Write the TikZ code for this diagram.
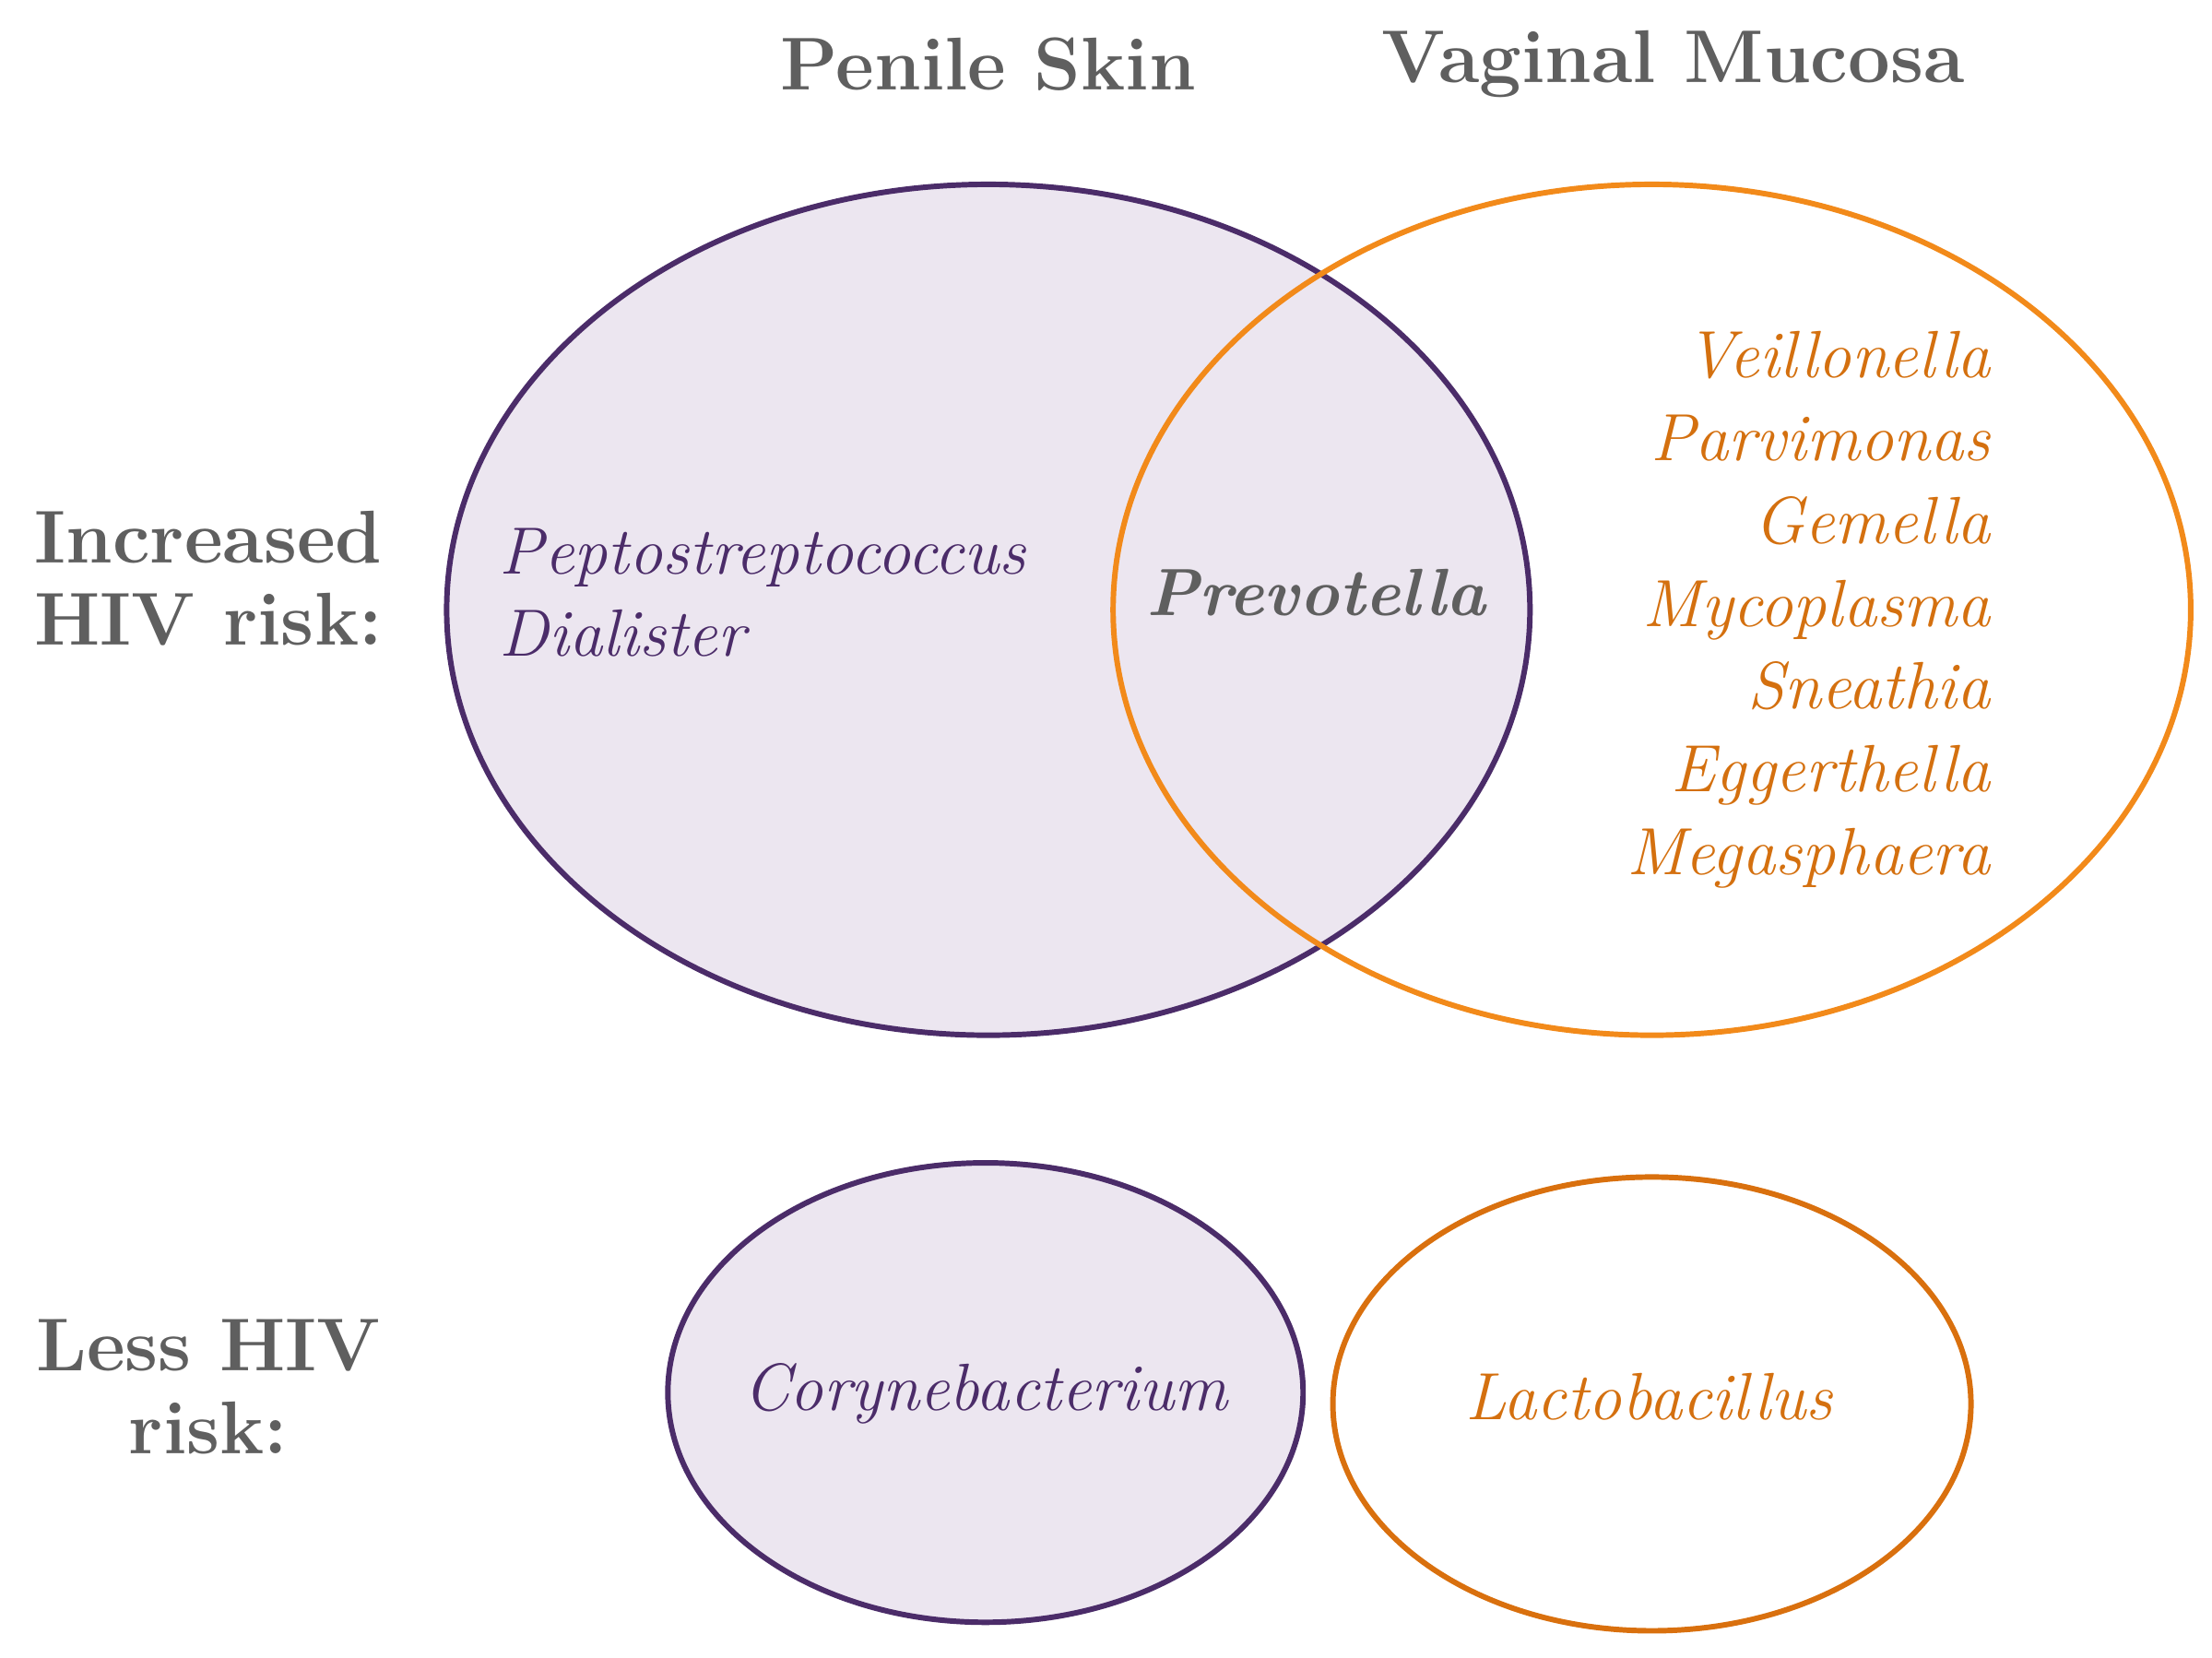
\documentclass[tikz,border=0pt]{standalone}
\begin{document}
\begin{tikzpicture}[x=0.01cm,y=-0.01cm,
  purp/.style={draw=pline,line width=1.1pt,fill=pfill},
  oran/.style={draw=oline,line width=1.1pt},
  head/.style={text=gtxt,font=\fontsize{15}{18}\selectfont\bfseries},
  side/.style={text=gtxt,font=\fontsize{15}{16.5}\selectfont\bfseries,align=center},
  ptxt/.style={text=pline,font=\fontsize{13.4}{16.5}\selectfont\itshape},
  otxt/.style={text=otext,font=\fontsize{13.4}{16.6}\selectfont\itshape}]
\definecolor{pline}{HTML}{4B2C69}
\definecolor{pfill}{HTML}{ECE6F0}
\definecolor{oline}{HTML}{F28A1A}
\definecolor{oline2}{HTML}{D9700E}
\definecolor{otext}{HTML}{D4700F}
\definecolor{gtxt}{HTML}{5F5F5F}
\useasboundingbox (0,0) rectangle (1560,1169);
\draw[purp] (697,430) ellipse [x radius=382,y radius=300];
\draw[oran] (1165,430) ellipse [x radius=380,y radius=300];
\draw[purp] (695,982) ellipse [x radius=224,y radius=162];
\draw[oran,draw=oline2] (1165,990) ellipse [x radius=225,y radius=160];
\node[head] (t1) at (697,45) {Penile Skin};
\node[head] (t2) at (1180,45) {Vaginal Mucosa};
\node[side] (s1) at (147,408) {Increased\\HIV risk:};
\node[side] (s2) at (147,978) {Less HIV\\risk:};
\node[ptxt,anchor=west,align=left] (p1) at (340,418) {Peptostreptococcus\\Dialister};
\node[text=gtxt,font=\fontsize{13.4}{16}\selectfont\bfseries\itshape] (pv) at (928,418) {Prevotella};
\node[otxt,anchor=east,align=right] (ol) at (1416,430) {Veillonella\\Parvimonas\\Gemella\\Mycoplasma\\Sneathia\hspace{0.4em}\\Eggerthella\hspace{0.4em}\\Megasphaera\hspace{0.4em}};
\node[ptxt] (c) at (695,983) {Corynebacterium};
\node[otxt] (l) at (1163,985) {Lactobacillus};
\end{tikzpicture}
\end{document}
